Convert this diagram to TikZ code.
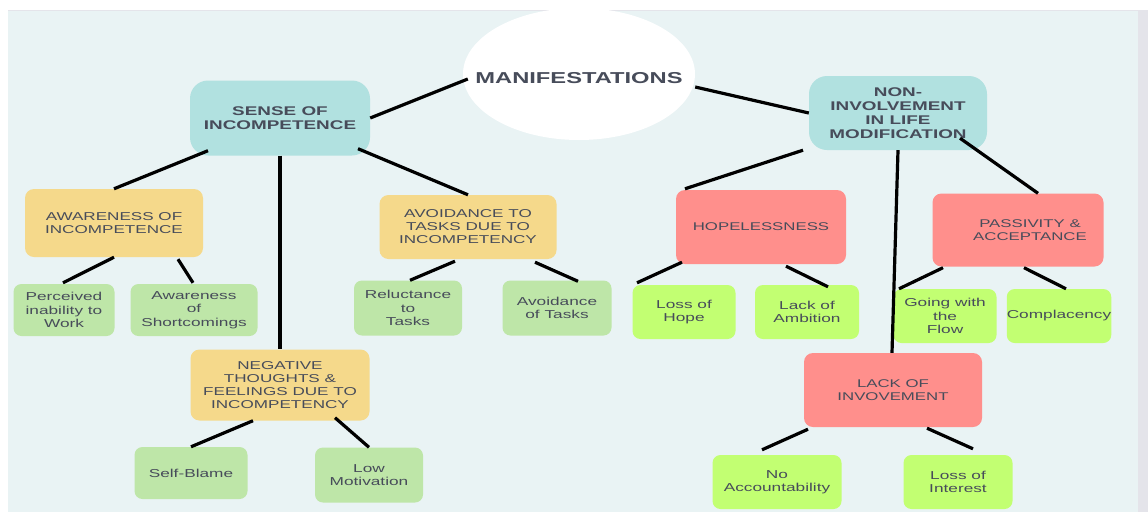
\documentclass[tikz,border=0pt]{standalone}
\usepackage{fontspec}
\usepackage{tikz}
\usetikzlibrary{shapes.geometric, positioning}
\newfontfamily\mapfont{Liberation Sans}[FakeStretch=1.5]
\definecolor{mapbg}{HTML}{E9F3F4}
\definecolor{mapedge}{HTML}{E4E4EA}
\definecolor{mteal}{HTML}{B1E1E0}
\definecolor{myellow}{HTML}{F5D98B}
\definecolor{mgreen}{HTML}{BEE6A8}
\definecolor{msalmon}{HTML}{FF8F8C}
\definecolor{mlime}{HTML}{C2FF72}
\definecolor{mtext}{HTML}{474C5A}

\tikzset{
    boxsize/.style 2 args={minimum width=#1pt, minimum height=#2pt},
    anybox/.style={rectangle, inner sep=0pt, align=center, text=mtext},
    hub/.style={ellipse, fill=white, inner sep=0pt},
    hubtext/.style={text=mtext, font=\mapfont\bfseries\fontsize{15.8}{18}\selectfont},
    topbox/.style={anybox, fill=mteal, rounded corners=18pt,
        font=\mapfont\bfseries\fontsize{12.6}{14}\selectfont},
    yellowbox/.style={anybox, fill=myellow, rounded corners=9pt,
        font=\mapfont\fontsize{11.4}{13}\selectfont},
    redbox/.style={anybox, fill=msalmon, rounded corners=9pt,
        font=\mapfont\fontsize{11.2}{13}\selectfont},
    greenbox/.style={anybox, fill=mgreen, rounded corners=8pt,
        font=\mapfont\fontsize{11.5}{13.3}\selectfont},
    limebox/.style={anybox, fill=mlime, rounded corners=8pt,
        font=\mapfont\fontsize{11.5}{13.3}\selectfont},
    link/.style={line width=3.2pt, black},
}

\begin{document}
\begin{tikzpicture}[x=1pt, y=-1pt]

        \useasboundingbox (0,0) rectangle (1148,512);
        \fill[white] (0,0) rectangle (1148,512);
        \fill[mapbg] (8,10) rectangle (1138,512);
        \fill[mapedge] (1138,10) rectangle (1148,512);
        \draw[mapedge, thin] (8,10) -- (1148,10);

        % centre and the two main branches
        \node[hub, boxsize={232}{132}, label={[hubtext, yshift=-4pt]center:MANIFESTATIONS}] (hub) at (579,74) {};
        \node[topbox, boxsize={180}{75}] (sense) at (280,118) {SENSE OF\\INCOMPETENCE};
        \node[topbox, boxsize={178}{74}] (nonin) at (898,113) {NON-\\INVOLVEMENT\\IN LIFE\\MODIFICATION};

        % left side
        \node[yellowbox, boxsize={178}{68}] (aware) at (114,223) {AWARENESS OF\\INCOMPETENCE};
        \node[yellowbox, boxsize={177}{64}] (avoid) at (468,227) {AVOIDANCE TO\\TASKS DUE TO\\INCOMPETENCY};
        \node[yellowbox, boxsize={179}{71}] (negat) at (280,385) {NEGATIVE\\THOUGHTS \&\\FEELINGS DUE TO\\INCOMPETENCY};

        \node[greenbox, boxsize={101}{52}] (perc) at (64,310) {Perceived\\inability to\\Work};
        \node[greenbox, boxsize={127}{52}] (short) at (194,310) {Awareness\\of\\Shortcomings};
        \node[greenbox, boxsize={108}{55}] (reluc) at (408,308) {Reluctance\\to\\Tasks};
        \node[greenbox, boxsize={109}{55}] (avtask) at (557,308) {Avoidance\\of Tasks};
        \node[greenbox, boxsize={113}{52}] (blame) at (191,473) {Self-Blame};
        \node[greenbox, boxsize={108}{55}] (lowmot) at (369,475) {Low\\Motivation};

        % right side
        \node[redbox, boxsize={170}{74}] (hope) at (761,227) {HOPELESSNESS};
        \node[redbox, boxsize={171}{73}] (pass) at (1018,230) {\hspace*{24pt}PASSIVITY \&\\\hspace*{24pt}ACCEPTANCE};
        \node[redbox, boxsize={178}{74}] (lackinv) at (893,390) {LACK OF\\INVOVEMENT};

        \node[limebox, boxsize={103}{54}] (losshope) at (684,312) {Loss of\\Hope};
        \node[limebox, boxsize={104}{54}] (ambit) at (807,312) {Lack of\\Ambition};
        \node[limebox, boxsize={103}{54}] (flow) at (945,316) {Going with\\the\\Flow};
        \node[limebox, boxsize={104}{54}] (compl) at (1059,316) {Complacency};
        \node[limebox, boxsize={129}{54}] (noacc) at (777,482) {No\\Accountability};
        \node[limebox, boxsize={109}{54}] (lossint) at (958,482) {Loss of\\Interest};

        % connectors
        \draw[link] ([shift={(5,5)}]hub.west) -- (sense.east);
        \draw[link] ([shift={(0,13)}]hub.east) -- (nonin.west);

        \draw[link] ([shift={(-72,-5)}]sense.south) -- (aware.north);
        \draw[link] (sense.south) -- (negat.north);
        \draw[link] ([shift={(78,-7)}]sense.south) -- (avoid.north);

        \draw[link] ([shift={(-95,0)}]nonin.south) -- ([shift={(-76,-1)}]hope.north);
        \draw[link] (nonin.south) -- ([shift={(-1,0)}]lackinv.north);
        \draw[link] ([shift={(62,-12)}]nonin.south) -- ([shift={(20,0)}]pass.north);

        \draw[link] (aware.south) -- ([shift={(-1,-1)}]perc.north);
        \draw[link] ([shift={(64,2)}]aware.south) -- ([shift={(-1,-1)}]short.north);
        \draw[link] ([shift={(-13,2)}]avoid.south) -- ([shift={(2,0)}]reluc.north);
        \draw[link] ([shift={(67,3)}]avoid.south) -- ([shift={(21,1)}]avtask.north);
        \draw[link] ([shift={(-27,0)}]negat.south) -- (blame.north);
        \draw[link] ([shift={(55,-3)}]negat.south) -- (lowmot.north);

        \draw[link] ([shift={(-79,-2)}]hope.south) -- ([shift={(-47,-2)}]losshope.north);
        \draw[link] ([shift={(25,2)}]hope.south) -- ([shift={(21,2)}]ambit.north);
        \draw[link] ([shift={(-75,1)}]pass.south) -- ([shift={(-46,0)}]flow.north);
        \draw[link] ([shift={(6,1)}]pass.south) -- ([shift={(7,0)}]compl.north);
        \draw[link] ([shift={(-85,2)}]lackinv.south) -- ([shift={(-15,-5)}]noacc.north);
        \draw[link] ([shift={(34,1)}]lackinv.south) -- ([shift={(15,-6)}]lossint.north);

\end{tikzpicture}
\end{document}
